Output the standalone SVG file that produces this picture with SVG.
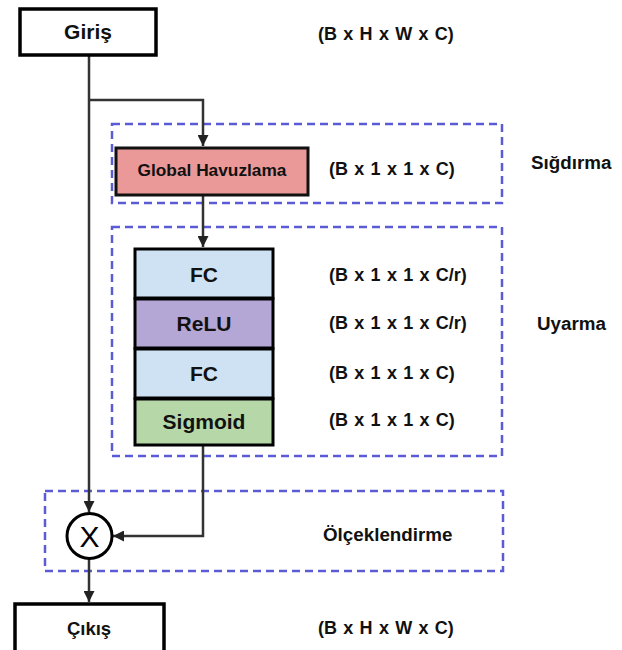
<svg xmlns="http://www.w3.org/2000/svg" width="622" height="650" viewBox="0 0 622 650">
<defs>
<style>
.box{stroke:#000;stroke-width:3.5}
.lbl{font-family:"Liberation Sans",Arial,sans-serif;font-weight:bold;fill:#111}
.dim{font-size:18px;word-spacing:1.3px}
.side{font-size:18.8px}
.stk{font-size:21px;text-anchor:middle}
.dash{fill:none;stroke:#5b5bd6;stroke-width:2.5;stroke-dasharray:8 5}
.conn{fill:none;stroke:#333;stroke-width:2.5}
</style>
<marker id="ah" viewBox="0 0 10 10" refX="10" refY="5" markerWidth="4.4" markerHeight="4.4" orient="auto" markerUnits="strokeWidth">
<path d="M0,0 L10,5 L0,10 Z" fill="#222"/>
</marker>
</defs>
<rect width="622" height="650" fill="#fff"/>
<g id="groups">
<rect class="dash" x="112" y="124" width="390" height="79"/>
<rect class="dash" x="112" y="227" width="390" height="229"/>
<rect class="dash" x="45" y="491" width="458" height="80"/>
</g>
<g id="connectors">
<path class="conn" d="M89,56 V512" marker-end="url(#ah)"/>
<path class="conn" d="M89,100 H203 V146" marker-end="url(#ah)"/>
<path class="conn" d="M203,195 V247" marker-end="url(#ah)"/>
<path class="conn" d="M203,446 V536 H113" marker-end="url(#ah)"/>
<path class="conn" d="M89,559 V602" marker-end="url(#ah)"/>
</g>
<g id="giris">
<rect class="box" x="20" y="9" width="136" height="46" fill="#fff"/>
<text class="lbl" x="88" y="39" font-size="21" text-anchor="middle">Giriş</text>
</g>
<g id="global-havuzlama">
<rect x="116" y="148" width="192" height="47" fill="#ea9898" stroke="#111" stroke-width="3"/>
<text class="lbl" x="212" y="176" font-size="17.3" text-anchor="middle" fill="#2a1212">Global Havuzlama</text>
</g>
<g id="fc1">
<rect x="135" y="249" width="138" height="49" fill="#cfe2f3" stroke="#000" stroke-width="3"/>
<text class="lbl stk" x="204" y="282">FC</text>
</g>
<g id="relu">
<rect x="135" y="299" width="138" height="49" fill="#b4a7d6" stroke="#000" stroke-width="3"/>
<text class="lbl stk" x="204" y="331">ReLU</text>
</g>
<g id="fc2">
<rect x="135" y="349" width="138" height="49" fill="#cfe2f3" stroke="#000" stroke-width="3"/>
<text class="lbl stk" x="204" y="381">FC</text>
</g>
<g id="sigmoid">
<rect x="135" y="399" width="138" height="46" fill="#b6d7a8" stroke="#000" stroke-width="3"/>
<text class="lbl stk" x="204" y="429">Sigmoid</text>
</g>
<g id="multiply">
<circle cx="89.5" cy="536" r="22.5" fill="#fff" stroke="#000" stroke-width="3"/>
<text x="89.5" y="547" font-family="Liberation Sans,Arial,sans-serif" font-size="30" text-anchor="middle" fill="#000">X</text>
</g>
<g id="cikis">
<rect class="box" x="15" y="604" width="149" height="60" fill="#fff"/>
<text class="lbl" x="89" y="635" font-size="18.5" text-anchor="middle">Çıkış</text>
</g>
<g id="labels">
<text class="lbl dim" x="318" y="40">(B x H x W x C)</text>
<text class="lbl dim" x="329" y="175">(B x 1 x 1 x C)</text>
<text class="lbl dim" x="329" y="281">(B x 1 x 1 x C/r)</text>
<text class="lbl dim" x="329" y="329">(B x 1 x 1 x C/r)</text>
<text class="lbl dim" x="329" y="379">(B x 1 x 1 x C)</text>
<text class="lbl dim" x="329" y="426">(B x 1 x 1 x C)</text>
<text class="lbl side" x="531" y="169">Sığdırma</text>
<text class="lbl side" x="537" y="330">Uyarma</text>
<text class="lbl side" x="323" y="541">Ölçeklendirme</text>
<text class="lbl dim" x="318" y="634">(B x H x W x C)</text>
</g>
</svg>
